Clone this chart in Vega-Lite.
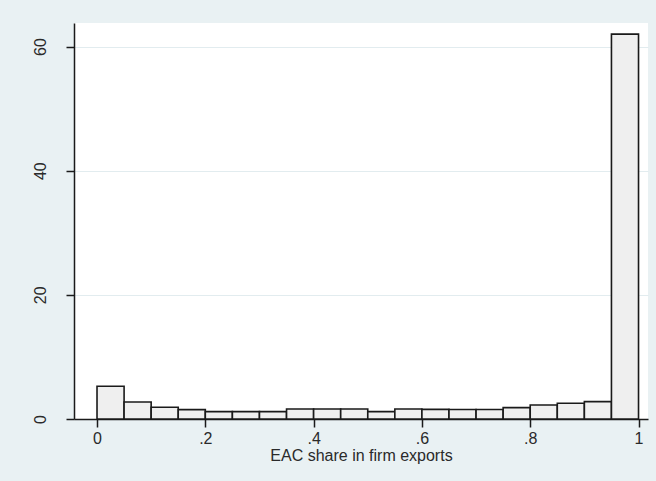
{
  "$schema": "https://vega.github.io/schema/vega-lite/v6.json",
  "width": 574,
  "height": 396,
  "autosize": {"type": "none"},
  "padding": {"left": 74, "top": 23, "right": 8, "bottom": 62},
  "background": "#e9f1f3",
  "config": {
    "view": {"fill": "#ffffff", "stroke": null},
    "font": "Liberation Sans"
  },
  "data": {
    "values": [
      {"bin_start": 0.00, "bin_end": 0.05, "percent": 5.27},
      {"bin_start": 0.05, "bin_end": 0.10, "percent": 2.74},
      {"bin_start": 0.10, "bin_end": 0.15, "percent": 1.89},
      {"bin_start": 0.15, "bin_end": 0.20, "percent": 1.51},
      {"bin_start": 0.20, "bin_end": 0.25, "percent": 1.19},
      {"bin_start": 0.25, "bin_end": 0.30, "percent": 1.19},
      {"bin_start": 0.30, "bin_end": 0.35, "percent": 1.19},
      {"bin_start": 0.35, "bin_end": 0.40, "percent": 1.61},
      {"bin_start": 0.40, "bin_end": 0.45, "percent": 1.61},
      {"bin_start": 0.45, "bin_end": 0.50, "percent": 1.61},
      {"bin_start": 0.50, "bin_end": 0.55, "percent": 1.19},
      {"bin_start": 0.55, "bin_end": 0.60, "percent": 1.61},
      {"bin_start": 0.60, "bin_end": 0.65, "percent": 1.55},
      {"bin_start": 0.65, "bin_end": 0.70, "percent": 1.53},
      {"bin_start": 0.70, "bin_end": 0.75, "percent": 1.53},
      {"bin_start": 0.75, "bin_end": 0.80, "percent": 1.83},
      {"bin_start": 0.80, "bin_end": 0.85, "percent": 2.26},
      {"bin_start": 0.85, "bin_end": 0.90, "percent": 2.53},
      {"bin_start": 0.90, "bin_end": 0.95, "percent": 2.80},
      {"bin_start": 0.95, "bin_end": 1.00, "percent": 62.0}
    ]
  },
  "mark": {"type": "rect", "fill": "#efefef", "stroke": "#1a1a1a", "strokeWidth": 1.6},
  "encoding": {
    "x": {
      "field": "bin_start",
      "type": "quantitative",
      "scale": {"domain": [-0.0425, 1.0175], "nice": false, "zero": false},
      "axis": {
        "title": "EAC share in firm exports",
        "values": [0, 0.2, 0.4, 0.6, 0.8, 1],
        "labelExpr": "datum.value == 0 ? '0' : datum.value == 1 ? '1' : replace(format(datum.value, '.1f'), '0.', '.')",
        "grid": false,
        "domainColor": "#1a1a1a",
        "domainWidth": 1.5,
        "tickColor": "#1a1a1a",
        "tickWidth": 1.5,
        "tickSize": 8,
        "labelFontSize": 16,
        "labelColor": "#2a2a2a",
        "labelPadding": 3,
        "labelFlush": false,
        "titleFontSize": 16,
        "titleFontWeight": "normal",
        "titleColor": "#2a2a2a",
        "titlePadding": 1
      }
    },
    "x2": {"field": "bin_end"},
    "y": {
      "field": "percent",
      "type": "quantitative",
      "scale": {"domain": [0, 63.8], "nice": false},
      "axis": {
        "title": null,
        "values": [0, 20, 40, 60],
        "grid": true,
        "gridColor": "#e2ecef",
        "gridWidth": 1.2,
        "domainColor": "#1a1a1a",
        "domainWidth": 1.5,
        "tickColor": "#1a1a1a",
        "tickWidth": 1.5,
        "tickSize": 8,
        "labelAngle": -90,
        "labelAlign": "center",
        "labelBaseline": "bottom",
        "labelFontSize": 16,
        "labelColor": "#2a2a2a",
        "labelPadding": 18,
        "labelFlush": false
      }
    },
    "y2": {"datum": 0}
  }
}
